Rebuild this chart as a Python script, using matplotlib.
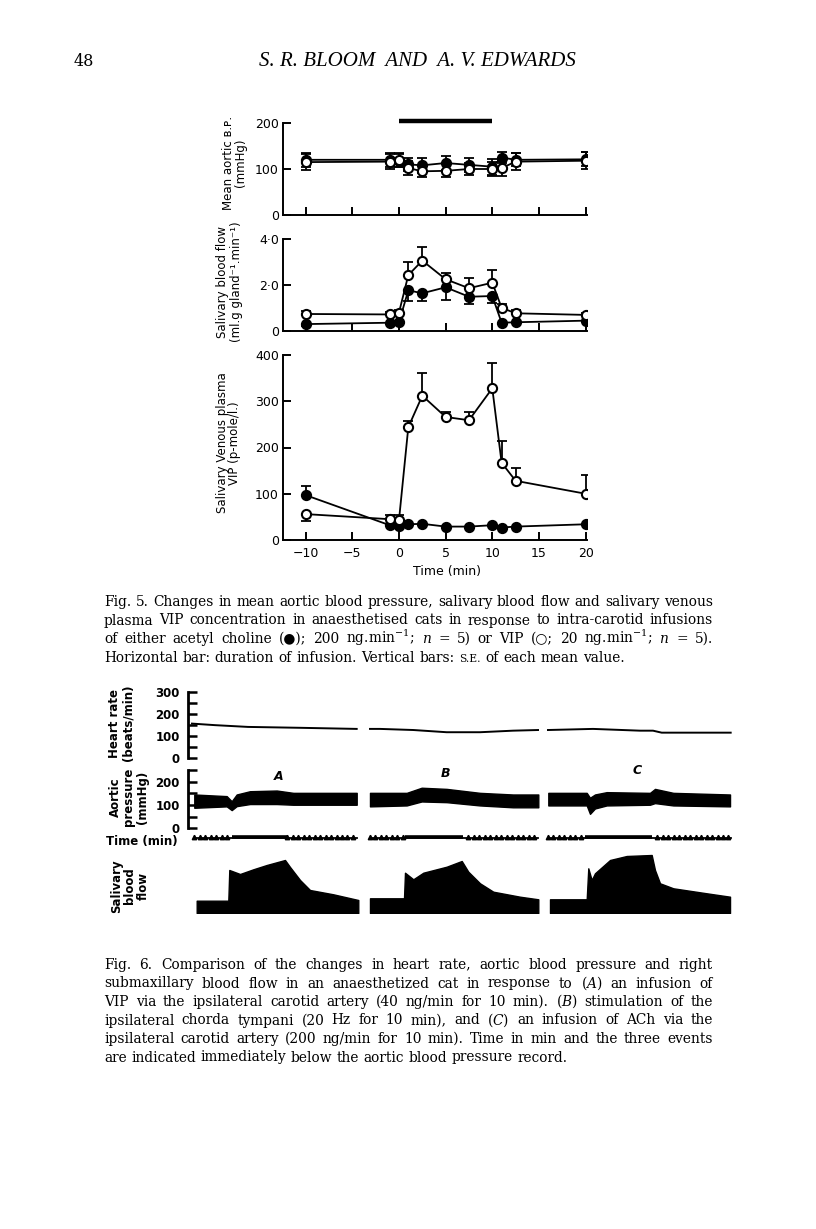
import numpy as np
import matplotlib
matplotlib.use("Agg")
import matplotlib.pyplot as plt

plt.rcParams['font.family'] = ['DejaVu Sans']
plt.rcParams['mathtext.fontset'] = 'dejavuserif'

W, H = 816, 1229
# ---------------- Fig. 5 data ----------------
time_min = [-10, -1, 0, 1, 2.5, 5, 7.5, 10, 11, 12.5, 20]
infusion = [0, 10]

bp_ach = [120, 120, 118, 110, 108, 113, 109, 105, 125, 120, 121]
bp_ach_se = [15, 15, 14, 14, 16, 16, 16, 17, 13, 14, 15]
bp_vip = [115, 116, 120, 102, 95, 96, 100, 100, 102, 116, 118]
bp_vip_se = [17, 16, 15, 15, 12, 14, 13, 15, 17, 18, 18]

flow_vip = [0.74, 0.72, 0.80, 2.43, 3.06, 2.25, 1.86, 2.10, 1.01, 0.77, 0.70]
flow_vip_se = [0.12, 0.10, 0.12, 0.55, 0.60, 0.25, 0.45, 0.55, 0.15, 0.15, 0.08]
flow_ach = [0.30, 0.36, 0.38, 1.77, 1.64, 1.90, 1.49, 1.52, 0.36, 0.38, 0.45]
flow_ach_se = [0.08, 0.05, 0.05, 0.45, 0.35, 0.55, 0.33, 0.30, 0.05, 0.05, 0.05]

vip_vip = [56, 45, 43, 244, 312, 266, 259, 328, 167, 128, 100]
vip_vip_se_up = [0, 10, 10, 14, 50, 10, 18, 54, 48, 27, 40]
vip_vip_se_dn = [15, 0, 0, 0, 0, 0, 0, 0, 0, 0, 0]
vip_ach = [97, 32, 31, 34, 35, 29, 29, 32, 27, 29, 34]
vip_ach_se_up = [20, 0, 0, 0, 0, 0, 0, 0, 0, 0, 0]

x_ticks5 = [-10, -5, 0, 5, 10, 15, 20]
x_ticklabels5 = ['\u221210', '\u22125', '0', '5', '10', '15', '20']

# ---------------- Fig. 6 data (time in min along the chart record) ----------------
hr_t = [[0.73, 4.94, 10.97, 20.48, 30.84],
        [33.27, 35.10, 41.19, 47.29, 53.38, 59.41, 63.99],
        [65.81, 74.04, 82.63, 85.01, 86.60, 99.21]]
hr_v = [[157, 150, 142, 138, 133],
        [133, 133, 128, 118, 118, 125, 128],
        [128, 133, 125, 125, 116, 116]]

ap_t = [[1.15, 7.07, 7.99, 8.90, 11.33, 16.22, 19.25, 30.84],
        [33.27, 39.98, 42.72, 47.29, 53.38, 59.41, 64.04],
        [65.87, 72.89, 73.49, 74.40, 76.54, 84.46, 85.37, 88.72, 99.09]]
ap_hi = [[145, 138, 116, 145, 159, 162, 152, 152],
         [152, 152, 174, 169, 152, 145, 145],
         [152, 152, 131, 145, 155, 152, 169, 152, 145]]
ap_lo = [[88, 94, 78, 95, 104, 104, 101, 101],
         [94, 98, 115, 112, 98, 90, 90],
         [98, 98, 62, 85, 98, 101, 108, 98, 94]]

sf_t = [[1.59, 7.37, 7.55, 9.51, 11.94, 14.39, 17.73, 18.65, 20.48, 22.30, 26.56, 31.13],
        [33.27, 39.49, 39.67, 41.19, 43.02, 47.29, 50.04, 51.24, 53.38, 55.81, 60.69, 64.04],
        [66.18, 72.89, 73.18, 73.80, 74.40, 77.15, 80.20, 84.77, 85.37, 86.29, 88.72, 94.83, 99.09]]
sf_v = [[12.3, 12.3, 43, 39, 43.7, 48, 53, 46, 33, 23, 18.7, 13],
        [14.7, 14.7, 40.3, 33.7, 40.3, 46.3, 52, 41.3, 29.7, 21.3, 16.3, 13.7],
        [13.7, 13.7, 44.7, 33, 39.7, 53, 57, 58, 43, 29.7, 24.7, 19.7, 16.3]]

seg_start = [1.15, 33.27, 65.81]
seg_end = [30.90, 64.00, 99.27]
event_on = [7.99, 39.67, 72.58]
event_off = [18.04, 50.27, 84.83]
event_labels = ['A', 'B', 'C']
event_label_t = [16.5, 47.0, 82.1]
event_label_y = [220, 233, 250]

# ---------------- helpers ----------------
fig = plt.figure(figsize=(W / 100, H / 100), dpi=100)
fig.patch.set_facecolor('white')


def fx(px):
    return px / W


def fy(py):
    return 1 - py / H


def axes_px(left, top, right, bottom):
    return fig.add_axes([fx(left), fy(bottom), (right - left) / W, (bottom - top) / H])


SERIF = ['DejaVu Serif', 'DejaVu Sans']

# ---------------- header ----------------
fig.text(fx(74), fy(66), '48', fontsize=11.5, family=SERIF, ha='left', va='baseline')
fig.text(fx(417), fy(66), 'S. R. BLOOM  AND  A. V. EDWARDS', fontsize=15,
         family=['Liberation Serif', 'DejaVu Serif'], style='italic', ha='center', va='baseline')

# ---------------- Fig. 5 panels ----------------
L5, R5 = 283, 587
xlim5 = (-12.43, 20.15)
ax1 = axes_px(L5, 123, R5, 215)
ax2 = axes_px(L5, 239, R5, 331)
ax3 = axes_px(L5, 355, R5, 540)

for ax in (ax1, ax2, ax3):
    ax.set_xlim(*xlim5)
    for s in ('top', 'right'):
        ax.spines[s].set_visible(False)
    for s in ('left', 'bottom'):
        ax.spines[s].set_linewidth(1.4)
    ax.tick_params(direction='in', length=6, width=1.4, labelsize=9, pad=3)
    ax.set_xticks(x_ticks5)
    ax.patch.set_alpha(0)

ax1.set_xticklabels([])
ax2.set_xticklabels([])
ax3.set_xticklabels(x_ticklabels5)
ax3.tick_params(axis='x', pad=5)

mk = dict(markersize=6.6, markeredgewidth=1.5, markeredgecolor='black', color='black', linewidth=1.3)
ek = dict(fmt='none', ecolor='black', elinewidth=1.3, capsize=3.4, capthick=1.3, zorder=2)

# panel 1
ax1.set_ylim(0, 200)
ax1.set_yticks([0, 100, 200])
ax1.errorbar(time_min, bp_ach, yerr=bp_ach_se, **ek)
ax1.errorbar(time_min, bp_vip, yerr=bp_vip_se, **ek)
ax1.plot(time_min, bp_ach, marker='o', markerfacecolor='black', zorder=3, **mk)
ax1.plot(time_min, bp_vip, marker='o', markerfacecolor='white', zorder=4, **mk)
ax1.plot(infusion, [205, 205], color='black', linewidth=3.2, solid_capstyle='butt', clip_on=False)

# panel 2
ax2.set_ylim(0, 4)
ax2.set_yticks([0, 2, 4])
ax2.set_yticklabels(['0', '2\u00b70', '4\u00b70'])
zeros = [0] * len(time_min)
ax2.errorbar(time_min, flow_vip, yerr=[zeros, flow_vip_se], **ek)
ax2.errorbar(time_min, flow_ach, yerr=[flow_ach_se, zeros], **ek)
ax2.plot(time_min, flow_ach, marker='o', markerfacecolor='black', zorder=3, **mk)
ax2.plot(time_min, flow_vip, marker='o', markerfacecolor='white', zorder=4, **mk)

# panel 3
ax3.set_ylim(0, 400)
ax3.set_yticks([0, 100, 200, 300, 400])
ax3.errorbar(time_min, vip_vip, yerr=[vip_vip_se_dn, vip_vip_se_up], **ek)
ax3.errorbar(time_min, vip_ach, yerr=[zeros, vip_ach_se_up], **ek)
ax3.plot(time_min, vip_ach, marker='o', markerfacecolor='black', zorder=3, **mk)
ax3.plot(time_min, vip_vip, marker='o', markerfacecolor='white', zorder=4, **mk)

fig.text(fx(447), fy(572), 'Time (min)', fontsize=9, ha='center', va='center')

ylab = dict(fontsize=8.5, rotation=90, ha='center', va='center')
fig.text(fx(229), fy(163), 'Mean aortic \u0299.\u1d18.', **ylab)
fig.text(fx(241), fy(163), '(mmHg)', **ylab)
fig.text(fx(223), fy(282), 'Salivary blood flow', **ylab)
fig.text(fx(236), fy(282), '(ml.g gland\u207b\u00b9.min\u207b\u00b9)', **ylab)
fig.text(fx(223), fy(443), 'Salivary Venous plasma', **ylab)
fig.text(fx(235), fy(443), 'VIP (p-mole/l.)', **ylab)

# ---------------- Fig. 6 panels ----------------
L6, R6 = 188, 735
xlim6 = (0, 100)
hr_ax = axes_px(L6, 692, R6, 758.3)
ap_ax = axes_px(L6, 770, R6, 828.3)
tm_ax = axes_px(L6, 830, R6, 845)
sf_ax = axes_px(L6, 853, R6, 913)

for ax in (hr_ax, ap_ax, tm_ax, sf_ax):
    ax.set_xlim(*xlim6)
    ax.patch.set_alpha(0)
    for s in ('top', 'right', 'bottom'):
        ax.spines[s].set_visible(False)
    ax.set_xticks([])
for ax in (tm_ax, sf_ax):
    ax.spines['left'].set_visible(False)
    ax.set_yticks([])

for ax, top in ((hr_ax, 300), (ap_ax, 250)):
    ax.set_ylim(0, top)
    ax.spines['left'].set_linewidth(2.0)
    ax.set_yticks(np.arange(0, top + 1, 50))
    ax.set_yticklabels(['' if v % 100 else str(v) for v in range(0, top + 1, 50)],
                       fontweight='bold', fontsize=8.5)
    ax.tick_params(axis='y', direction='in', length=6.5, width=1.8, pad=6)

for t, v in zip(hr_t, hr_v):
    hr_ax.plot(t, v, color='black', linewidth=1.4)

for t, hi, lo in zip(ap_t, ap_hi, ap_lo):
    ap_ax.fill_between(t, lo, hi, color='black', linewidth=1.0, edgecolor='black')

for lab, lt, ly in zip(event_labels, event_label_t, event_label_y):
    ap_ax.text(lt, ly, lab, fontsize=9, fontweight='bold', style='italic', ha='center', va='center')

tm_ax.set_ylim(0, 15)
for s0, s1, e0, e1 in zip(seg_start, seg_end, event_on, event_off):
    tm_ax.plot([s0, s1], [7, 7], color='black', linewidth=1.3)
    tm_ax.plot([e0, e1], [7.8, 7.8], color='black', linewidth=2.6, solid_capstyle='butt')
    ticks = np.arange(s0, s1 + 0.01, 1.0)
    ticks = ticks[(ticks < e0) | (ticks > e1)]
    tm_ax.plot(ticks, [8.5] * len(ticks), linestyle='none', marker='^', markersize=3.2,
               color='black')

sf_ax.set_ylim(0, 60)
for t, v in zip(sf_t, sf_v):
    sf_ax.fill_between(t, 0, v, color='black', linewidth=1.0, edgecolor='black')

blab = dict(fontsize=8.5, fontweight='bold', rotation=90, ha='center', va='center',
            linespacing=1.05)
fig.text(fx(121), fy(723), 'Heart rate\n(beats/min)', **blab)
fig.text(fx(129), fy(797), 'Aortic\npressure\n(mmHg)', **blab)
fig.text(fx(142), fy(842), 'Time (min)', fontsize=8.5, fontweight='bold', ha='center', va='center')
fig.text(fx(130), fy(886), 'Salivary\nblood\nflow', **blab)

# ---------------- captions (justified) ----------------
renderer = fig.canvas.get_renderer()
SMALL = {'S.E.'}


def justified(lines, x0, x1, baselines, size):
    for i, (line, yb) in enumerate(zip(lines, baselines)):
        words = line.split(' ')
        objs = []
        for w in words:
            fs = size * 0.78 if w in SMALL else size
            t = fig.text(fx(x0), fy(yb), w, fontsize=fs, family=SERIF, ha='left', va='baseline')
            objs.append(t)
        widths = [o.get_window_extent(renderer).width for o in objs]
        if i == len(lines) - 1:
            gap = size * 1.389 * 0.33
        else:
            gap = (x1 - x0 - sum(widths)) / (len(words) - 1)
        x = x0
        for o, w in zip(objs, widths):
            o.set_x(fx(x))
            x += w + gap


cap5 = [
    'Fig. 5. Changes in mean aortic blood pressure, salivary blood flow and salivary venous',
    'plasma VIP concentration in anaesthetised cats in response to intra-carotid infusions',
    'of either acetyl choline (\u25cf); 200 ng.min$^{-1}$; $n$ = 5) or VIP (\u25cb; 20 ng.min$^{-1}$; $n$ = 5).',
    'Horizontal bar: duration of infusion. Vertical bars: S.E. of each mean value.',
]
justified(cap5, 104, 713, [606, 624.5, 643, 661.5], 9.9)

cap6 = [
    'Fig. 6. Comparison of the changes in heart rate, aortic blood pressure and right',
    'submaxillary blood flow in an anaesthetized cat in response to ($A$) an infusion of',
    'VIP via the ipsilateral carotid artery (40 ng/min for 10 min). ($B$) stimulation of the',
    'ipsilateral chorda tympani (20 Hz for 10 min), and ($C$) an infusion of ACh via the',
    'ipsilateral carotid artery (200 ng/min for 10 min). Time in min and the three events',
    'are indicated immediately below the aortic blood pressure record.',
]
justified(cap6, 104, 713, [969, 987.5, 1006, 1024.5, 1043, 1061.5], 9.9)

fig.savefig('out.png', dpi=100, facecolor='white')
